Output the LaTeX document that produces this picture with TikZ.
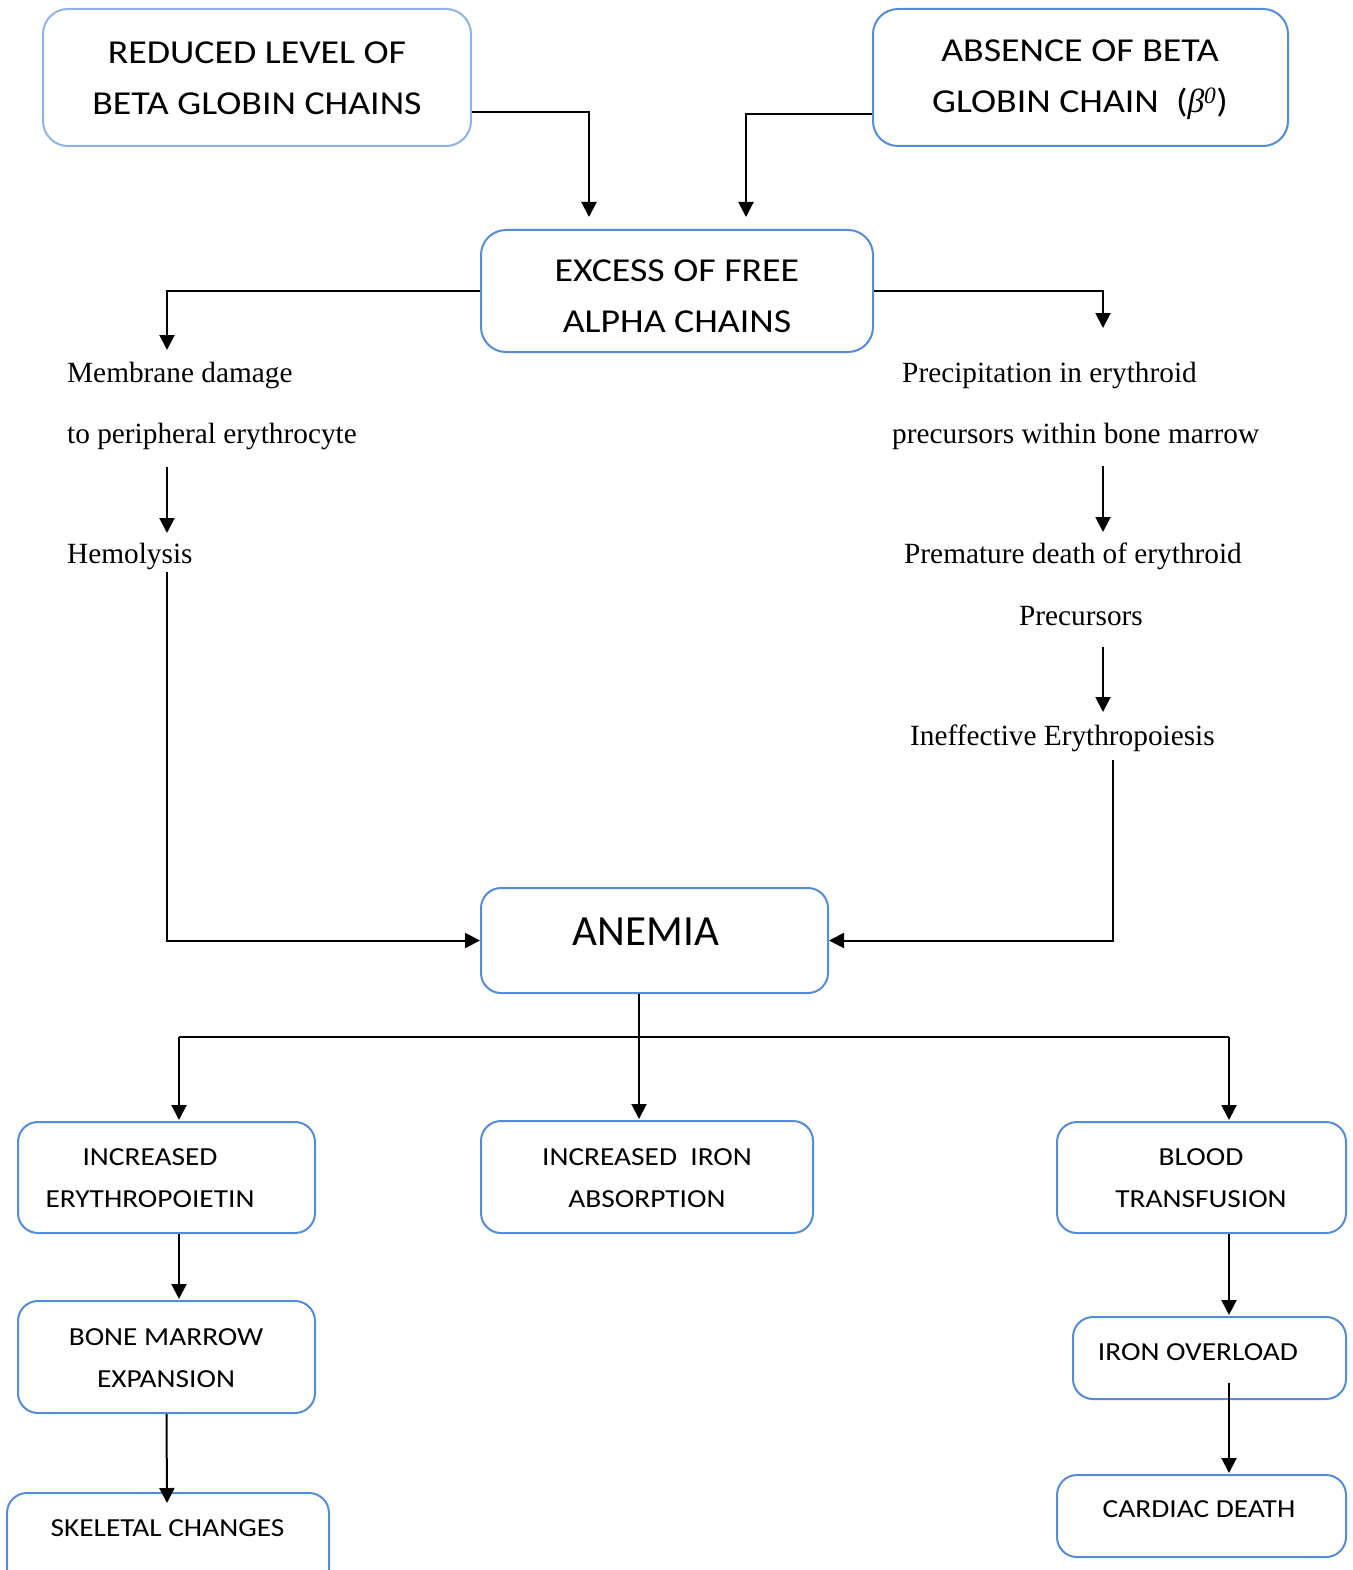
\documentclass[tikz,border=0pt]{standalone}
\usepackage{fontspec}
\setmainfont{Liberation Serif}
\newfontfamily\boxfont{Carlito}[FakeStretch=1.13]
\newfontfamily\anfont{Carlito}
\newfontfamily\grk{Liberation Serif}
\usetikzlibrary{arrows.meta}
\definecolor{bblue}{RGB}{86,140,212}
\definecolor{lblue}{RGB}{142,180,227}
\begin{document}
\begin{tikzpicture}[x=1pt,y=-1pt,
  bigbox/.style={draw=bblue, line width=2pt, rounded corners=25pt, inner sep=0},
  smallbox/.style={draw=bblue, line width=2pt, rounded corners=20pt, inner sep=0},
  btxt/.style={font=\boxfont\fontsize{33.5}{51}\selectfont, align=center, inner sep=0, anchor=base},
  atxt/.style={font=\anfont\fontsize{43}{50}\selectfont, align=center, inner sep=0, anchor=base},
  stxt/.style={font=\boxfont\fontsize{26}{42}\selectfont, align=center, inner sep=0, anchor=base},
  ser/.style={font=\fontsize{29.3}{61}\selectfont, align=left, inner sep=0, anchor=base west},
  sercen/.style={font=\fontsize{29.3}{62}\selectfont, align=center, inner sep=0, anchor=base},
  arr/.style={line width=2pt, -{Triangle[width=15pt,length=15pt]}},
  ln/.style={line width=2pt}]
\useasboundingbox (0,0) rectangle (1352,1570);
% boxes
\node[bigbox, draw=lblue, minimum width=428, minimum height=137] (reduced) at (257,77.5) {};
\node[bigbox, minimum width=415, minimum height=137] (absence) at (1080.5,77.5) {};
\node[bigbox, minimum width=392, minimum height=122] (excess) at (677,291) {};
\node[smallbox, minimum width=347, minimum height=105] (anemia) at (654.5,940.5) {};
\node[smallbox, minimum width=297, minimum height=111] (incery) at (166.5,1177.5) {};
\node[smallbox, minimum width=332, minimum height=112] (incir) at (647,1177) {};
\node[smallbox, minimum width=289, minimum height=111] (blood) at (1201.5,1177.5) {};
\node[smallbox, minimum width=297, minimum height=112] (bone) at (166.5,1357) {};
\node[smallbox, minimum width=273, minimum height=82] (ironov) at (1209.5,1358) {};
\node[smallbox, minimum width=322, minimum height=110] (skel) at (168,1548) {};
\node[smallbox, minimum width=289, minimum height=82] (cardiac) at (1201.5,1516) {};
% box texts (anchor base = baseline of last line)
\node[btxt] (reducedT) at (257,115) {REDUCED LEVEL OF\\BETA GLOBIN CHAINS};
\node[btxt] (absenceT) at (1080,113) {ABSENCE OF BETA\\GLOBIN CHAIN\ \ ({\grk\itshape β\textsuperscript{0}})};
\node[btxt] (excessT) at (677,332) {EXCESS OF FREE\\ALPHA CHAINS};
\node[atxt] (anemiaT) at (646,945) {ANEMIA};
\node[stxt] (inceryT) at (150,1207) {INCREASED\\ERYTHROPOIETIN};
\node[stxt] (incirT) at (647,1207) {INCREASED\ \ IRON\\ABSORPTION};
\node[stxt] (bloodT) at (1201,1207) {BLOOD\\TRANSFUSION};
\node[stxt] (boneT) at (166,1387) {BONE MARROW\\EXPANSION};
\node[stxt] (ironovT) at (1198,1360) {IRON OVERLOAD};
\node[stxt] (skelT) at (167.5,1536) {SKELETAL CHANGES};
\node[stxt] (cardiacT) at (1199,1517) {CARDIAC DEATH};
% serif texts
\node[ser] (memb) at (67,443) {Membrane damage\\to peripheral erythrocyte};
\node[ser] (hemo) at (67,563) {Hemolysis};
\node[ser] (precip) at (892,443) {\hspace*{10pt}Precipitation in erythroid\\precursors within bone marrow};
\node[sercen] (prem) at (1073,625) {Premature death of erythroid\\\hspace*{16pt}Precursors};
\node[ser] (ineff) at (910,745) {Ineffective Erythropoiesis};
% connectors
\draw[arr] ([yshift=-35pt]reduced.east) -| ([xshift=-88pt,yshift=12pt]excess.north);
\draw[arr] ([yshift=-37pt]absence.west) -| ([xshift=69pt,yshift=12pt]excess.north);
\draw[arr] (excess.west) -| (167,350);
\draw[arr] (excess.east) -| (1103,328);
\draw[arr] (167,467) -- (167,533);
\draw[arr] (1103,466) -- (1103,532);
\draw[arr] (1103,647) -- (1103,712);
\draw[arr] (167,572) |- (anemia.west);
\draw[arr] (1113,760) |- (anemia.east);
\draw[arr] ([xshift=-15.5pt]anemia.south) -- ([xshift=-8pt,yshift=1pt]incir.north);
\draw[ln] (179,1037) -- (1229,1037);
\draw[arr] (179,1037) -- ([xshift=12.5pt,yshift=1pt]incery.north);
\draw[arr] (1229,1037) -- ([xshift=27.5pt,yshift=1pt]blood.north);
\draw[arr] ([xshift=12.5pt]incery.south) -- ([xshift=12.5pt,yshift=1pt]bone.north);
\draw[arr] (bone.south) -- ([xshift=-1pt,yshift=-11pt]skel.north);
\draw[arr] ([xshift=27.5pt]blood.south) -- ([xshift=19.5pt,yshift=1pt]ironov.north);
\draw[arr] (1229,1383) -- ([xshift=27.5pt,yshift=1pt]cardiac.north);
\end{tikzpicture}
\end{document}
